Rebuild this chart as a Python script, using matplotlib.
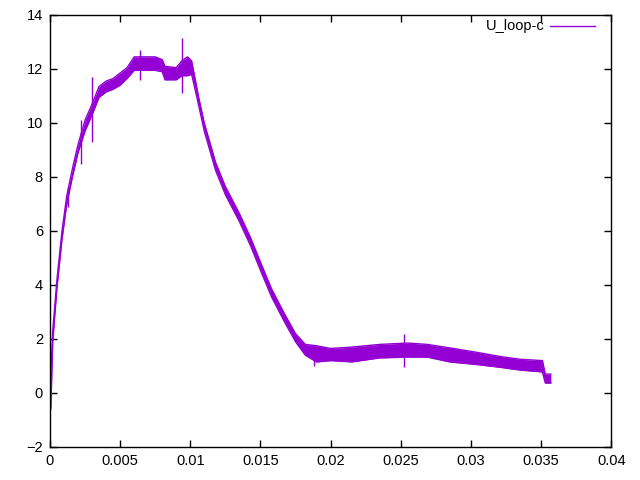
import matplotlib
matplotlib.use('Agg')
import matplotlib.pyplot as plt

# envelope of the noisy signal (x, lower, upper)
t = [0.0, 0.00007, 0.0002, 0.0005, 0.00086, 0.0012, 0.0016, 0.0020, 0.0025,
     0.0030, 0.0035, 0.0040, 0.0045, 0.0050, 0.0055, 0.0060, 0.0065, 0.0070,
     0.0075, 0.0080, 0.0082, 0.0090, 0.0094, 0.0098, 0.0101, 0.0106, 0.0110,
     0.0118, 0.0125, 0.0135, 0.0143, 0.0150, 0.0158, 0.0167, 0.0175, 0.0182,
     0.0190, 0.0200, 0.0215, 0.0235, 0.0255, 0.0269, 0.0285, 0.0305, 0.0321,
     0.0335, 0.0351, 0.0353, 0.0357]
u_lo = [-0.8, -0.5, 1.9, 3.9, 5.7, 7.0, 8.0, 8.9, 9.7,
        10.3, 10.95, 11.15, 11.25, 11.4, 11.65, 11.95, 11.95, 11.95,
        11.95, 11.9, 11.6, 11.6, 11.75, 11.75, 11.8, 10.65, 9.7,
        8.25, 7.35, 6.35, 5.45, 4.55, 3.55, 2.65, 1.9, 1.4,
        1.15, 1.2, 1.15, 1.3, 1.33, 1.33, 1.15, 1.05, 0.95,
        0.85, 0.78, 0.37, 0.37]
u_hi = [0.0, 0.8, 2.3, 4.2, 6.0, 7.3, 8.3, 9.2, 10.1,
        10.7, 11.35, 11.55, 11.65, 11.85, 12.05, 12.45, 12.45, 12.45,
        12.45, 12.35, 12.1, 12.05, 12.3, 12.45, 12.3, 10.95, 10.0,
        8.55, 7.65, 6.65, 5.75, 4.85, 3.85, 2.95, 2.2, 1.8,
        1.75, 1.65, 1.7, 1.8, 1.85, 1.8, 1.67, 1.5, 1.35,
        1.25, 1.2, 0.7, 0.7]

# isolated spikes (x, min, max)
spike_t = [0.0013, 0.0022, 0.0030, 0.0064, 0.0094, 0.0188, 0.0252]
spike_lo = [6.9, 8.5, 9.3, 11.6, 11.1, 1.0, 0.96]
spike_hi = [7.6, 10.1, 11.7, 12.7, 13.15, 1.7, 2.2]

color = '#9400D3'
plt.rcParams['font.family'] = ['Liberation Sans', 'DejaVu Sans']

fig = plt.figure(figsize=(6.4, 4.8), dpi=100)
ax = fig.add_axes([0.078, 0.06875, 0.877, 0.9])

ax.fill_between(t, u_lo, u_hi, color=color, linewidth=0)
ax.plot(t, u_lo, color=color, linewidth=1)
ax.plot(t, u_hi, color=color, linewidth=1)
ax.vlines(spike_t, spike_lo, spike_hi, color=color, linewidth=1)

ax.set_xlim(0, 0.04)
ax.set_ylim(-2, 14)
ax.set_xticks([0, 0.005, 0.01, 0.015, 0.02, 0.025, 0.03, 0.035, 0.04])
ax.set_xticklabels(['0', '0.005', '0.01', '0.015', '0.02', '0.025', '0.03', '0.035', '0.04'])
ax.set_yticks(range(-2, 15, 2))
ax.tick_params(direction='in', top=True, right=True, length=5, width=1,
               labelsize=10.5, pad=5)
for s in ax.spines.values():
    s.set_linewidth(1)

# gnuplot-style key
ax.text(0.882, 0.9745, 'U_loop-c', transform=ax.transAxes, ha='right', va='center',
        fontsize=10.5)
ax.plot([0.891, 0.971], [0.9745, 0.9745], transform=ax.transAxes, color=color,
        linewidth=1)

plt.savefig('out.png', dpi=100)
